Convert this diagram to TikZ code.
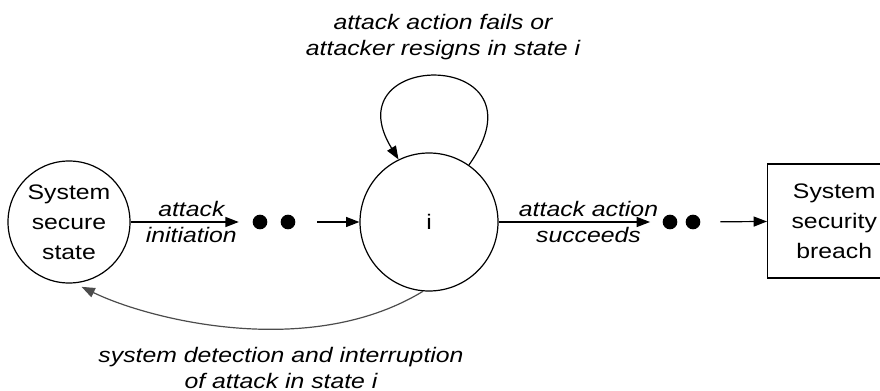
\documentclass[tikz,border=0pt]{standalone}
\usepackage{fontspec}
\setmainfont[FakeStretch=1.18]{Liberation Sans}
\usetikzlibrary{arrows.meta}

\begin{document}
\begin{tikzpicture}[x=0.75pt,y=-0.75pt,line width=0.9pt,
    >={Triangle[length=10pt,width=7.5pt]},
    every node/.style={font=\fontsize{15.75}{22.5}\selectfont},
    state/.style={draw,circle,align=center,inner sep=0pt},
    dot/.style={circle,fill,inner sep=0pt,minimum size=11pt},
    lbl/.style={font=\fontsize{15.75}{19.5}\selectfont\itshape,align=center}]
  \useasboundingbox (0,0) rectangle (880,391);
  \draw
    (69,222) node[state,minimum size=91.5pt] (secure){System\\secure\\state}
    (429,222) node[state,minimum size=103.5pt] (i){i}
    (767,221) node[draw,anchor=west,align=center,minimum width=100pt,minimum height=85.5pt,
      text width=70pt,xshift=0pt] (breach){System\\security\\breach};
  \path
    (260,222) node[dot] (d1){}
    (288,222) node[dot] (d2){}
    (670,222) node[dot] (d3){}
    (693,222) node[dot] (d4){};
  \path
    (443,37) node[lbl] (failtext){attack action fails or\\attacker resigns in state i}
    (281,368) node[lbl] (detecttext){system detection and interruption\\of attack in state i};
  \begin{scope}[->]
    \draw[shorten >=10pt] (secure) to node[lbl,above]{attack} node[lbl,below]{initiation} (d1);
    \draw[shorten <=16pt] (d2) to (i);
    \draw[shorten >=9pt] (i) to node[lbl,above,pos=0.55]{attack action} node[lbl,below,pos=0.55]{succeeds} (d3);
    \draw[shorten <=14.6pt] (d4) to (breach);
    \draw (i.55) .. controls (552,48) and (330,48) .. (i.116);
    \draw[black!70,shorten >=6pt] (i.265) .. controls (310,360) and (150,320) .. (secure.-85);
  \end{scope}
\end{tikzpicture}
\end{document}
